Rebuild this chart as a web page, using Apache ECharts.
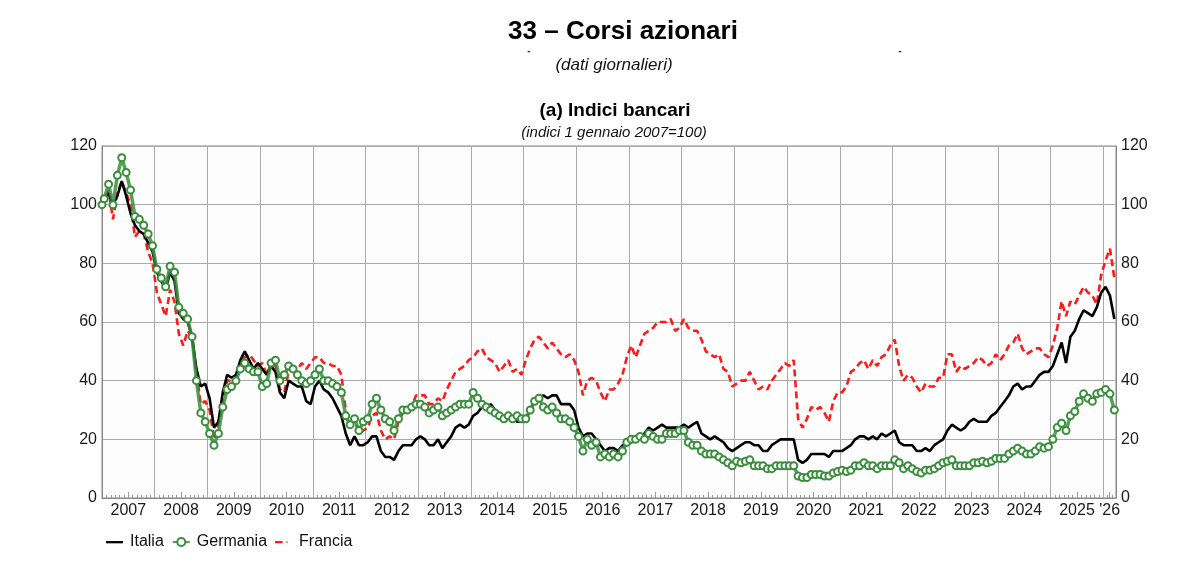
<!DOCTYPE html>
<html>
<head>
<meta charset="utf-8">
<script src="https://cdn.jsdelivr.net/npm/echarts@6/dist/echarts.min.js"></script>
<style>
html,body{margin:0;padding:0;background:#fff;}
#chart{width:1200px;height:582px;}
</style>
</head>
<body>
<div id="chart"></div>
<script>
// Monthly readings, Jan 2007 .. Mar 2026 (index 1 Jan 2007 = 100)
const startYear = 2007;
const endTime = 2026.24;
const baseValue = 100;
const yearLabels = ['2007','2008','2009','2010','2011','2012','2013','2014','2015','2016','2017','2018','2019','2020','2021','2022','2023','2024','2025',"'26"];
const yTicks = [0, 20, 40, 60, 80, 100, 120];

const italia = [
  102,104,100,103,108,103,97,93,91,90,87,84,
  77,74,71,77,74,63,61,60,55,44,38,39,
  34,24,26,36,42,41,42,47,50,47,44,46,
  44,42,45,43,36,34,40,39,38,38,33,32,
  38,40,37,36,34,31,28,22,18,21,18,18,
  19,21,21,16,14,14,13,16,18,18,18,20,
  21,20,18,18,20,17,19,21,24,25,24,25,
  28,29,31,30,32,30,28,27,27,27,26,26,
  27,30,33,34,35,34,35,35,32,32,32,30,
  24,21,22,22,20,18,16,17,17,16,18,18,
  19,20,21,22,24,23,24,25,24,24,24,24,
  25,24,25,26,22,21,20,21,20,19,17,16,
  17,18,19,19,18,18,16,16,18,19,20,20,
  20,20,13,12,13,15,15,15,15,14,16,16,
  16,17,18,20,21,21,20,21,20,22,21,22,
  23,19,18,18,18,16,16,17,16,18,19,20,
  23,25,24,23,24,26,27,26,26,26,28,29,
  31,33,35,38,39,37,38,38,40,42,43,43,
  45,49,53,46,55,57,61,64,63,62,65,70,
  72,69,61
];
const germania = [
  102,107,100,110,116,111,105,96,95,93,90,86,
  78,75,72,79,77,65,63,61,55,40,29,26,
  22,18,22,31,37,38,40,44,46,44,43,43,
  38,39,46,47,40,42,45,44,42,40,39,40,
  42,44,40,40,39,38,36,28,25,27,23,26,
  27,32,34,30,27,26,23,27,30,30,31,32,
  32,31,29,30,31,28,29,30,31,32,32,32,
  36,34,32,31,30,29,28,27,28,27,28,27,
  27,30,33,34,31,30,31,29,27,27,26,24,
  21,16,20,18,19,14,15,14,15,14,16,19,
  20,20,21,20,22,21,20,20,22,22,22,23,
  23,19,18,18,16,15,15,15,14,13,12,11,
  12.5,12,12.5,13,11,11,11,10,10,11,11,11,
  11,11,7.5,7,7,8,8,8,7.5,7.5,8.5,9,
  9.5,9,9.5,11,11,12,11,11,10,11,11,11,
  13,12,10,11,10,9,8.5,9.5,9.5,10,11,12,
  12.5,13,11,11,11,11,12,12,12.5,12,12.5,13.5,
  13.5,13.5,15,16,17,16,15,15,16,17.5,17,17.5,
  20,24,25.5,23,28,29.5,33,35.5,34,33,35.5,36,
  37,35.5,30
];
const francia = [
  101,105,95,104,108,104,100,89,91,90,84,80,
  70,66,62,71,67,56,52,57,55,43,32,33,
  30,20,25,33,40,40,41,45,48,49,47,45,
  46,42,46,45,37,36,43,44,44,46,44,46,
  48,48,46,46,45,45,42,30,24,27,22,23,
  24,28,29,23,20,21,20,26,29,30,31,35,
  35,35,32,32,34,33,37,40,43,44,45,47,
  48,50,51,48,47,46,43,45,47,43,44,42,
  47,51,54,55,53,51,53,51,49,48,49,47,
  43,35,40,41,40,36,33,37,37,39,42,48,
  52,48,52,56,57,58,60,60,60,61,57,58,
  61,58,57,57,54,50,49,48,49,44,43,38,
  39,40,40,43,40,37,38,37,40,42,44,46,
  45,47,27,24,27,31,30,31,29,26,33,36,
  36,38,43,44,46,47,44,47,45,48,49,52,
  54,45,40,42,41,38,36,39,38,38,41,41,
  49,49,43,45,44,45,46,48,47,45,46,49,
  47,49,52,53,56,51,49,50,51,51,49,48,
  52,58,67,62,67,66,69,72,70,69,66,76,
  81,85,75
];

function toPairs(vals) {
  const out = [[startYear, baseValue]];
  vals.forEach((v, i) => out.push([startYear + (i + 0.5) / 12, v]));
  return out;
}
const labelPos = yearLabels.map((l, i) => {
  const y0 = startYear + i;
  const y1 = Math.min(y0 + 1, endTime);
  return (y0 + y1) / 2;
});

const FONT = '"Liberation Sans", Arial, sans-serif';
const GREEN = '#3a8e3e';
const chart = echarts.init(document.getElementById('chart'), null, {renderer: 'canvas'});
chart.setOption({
  animation: false,
  backgroundColor: '#ffffff',
  textStyle: {fontFamily: FONT},
  title: [
    {text: '33 – Corsi azionari', left: 618, top: 14, textAlign: 'center',
     textStyle: {fontFamily: FONT, fontSize: 26, fontWeight: 'bold', color: '#000'}},
    {text: '-', left: 524, top: 41, textAlign: 'center',
     textStyle: {fontFamily: FONT, fontSize: 10, color: '#333'}},
    {text: '-', left: 895, top: 41, textAlign: 'center',
     textStyle: {fontFamily: FONT, fontSize: 10, color: '#333'}},
    {text: '(dati giornalieri)', left: 609, top: 52, textAlign: 'center',
     textStyle: {fontFamily: FONT, fontSize: 17, fontStyle: 'italic', fontWeight: 'normal', color: '#111'}},
    {text: '(a) Indici bancari', left: 610, top: 96, textAlign: 'center',
     textStyle: {fontFamily: FONT, fontSize: 19, fontWeight: 'bold', color: '#000'}},
    {text: '(indici 1 gennaio 2007=100)', left: 609, top: 120, textAlign: 'center',
     textStyle: {fontFamily: FONT, fontSize: 15, fontStyle: 'italic', fontWeight: 'normal', color: '#111'}}
  ],
  legend: {
    left: 101, top: 529, itemWidth: 17, itemHeight: 10, itemGap: 8,
    textStyle: {fontFamily: FONT, fontSize: 16, color: '#111', padding: [0, 0, 0, 2]},
    data: [
      {name: 'Italia', icon: 'path://M0,0 M0,10 M0,4 L18,4 L18,6.4 L0,6.4 Z'},
      {name: 'Germania'},
      {name: 'Francia', icon: 'path://M0,0 M0,10 M0,4 L8,4 L8,6.2 L0,6.2 Z M12,4.4 L13.5,4.4 L13.5,5.8 L12,5.8 Z M18,5 L18,5'}
    ]
  },
  grid: {left: 102, right: 84, top: 146, bottom: 84, show: true,
         borderColor: '#888', borderWidth: 1, backgroundColor: '#fdfdfd'},
  xAxis: [
    {type: 'value', min: startYear, max: endTime, interval: 1, position: 'bottom',
     axisLine: {show: true, lineStyle: {color: '#888'}},
     axisTick: {show: false, inside: true},
     minorTick: {show: true, splitNumber: 12, length: 3, lineStyle: {color: '#999'}},
     axisLabel: {show: false},
     splitLine: {show: true, lineStyle: {color: '#aaa', width: 1}}},
    {type: 'value', min: startYear, max: endTime, position: 'bottom',
     axisLine: {show: false},
     axisTick: {show: true, inside: true, length: 6, customValues: labelPos, lineStyle: {color: '#999'}},
     axisLabel: {show: true, customValues: labelPos, margin: 5, fontFamily: FONT, fontSize: 16, color: '#1a1a1a',
       formatter: function (v) {
         let best = 0, d = 1e9;
         labelPos.forEach((p, i) => { if (Math.abs(p - v) < d) { d = Math.abs(p - v); best = i; } });
         return yearLabels[best];
       }},
     splitLine: {show: false}}
  ],
  yAxis: [
    {type: 'value', min: yTicks[0], max: yTicks[yTicks.length - 1], interval: 20, position: 'left',
     axisLine: {show: true, lineStyle: {color: '#888'}},
     axisTick: {show: false},
     axisLabel: {fontFamily: FONT, fontSize: 16, color: '#1a1a1a', margin: 5},
     splitLine: {show: true, lineStyle: {color: '#aaa', width: 1}}},
    {type: 'value', min: yTicks[0], max: yTicks[yTicks.length - 1], interval: 20, position: 'right',
     axisLine: {show: true, lineStyle: {color: '#888'}},
     axisTick: {show: false},
     axisLabel: {fontFamily: FONT, fontSize: 16, color: '#1a1a1a', margin: 5},
     splitLine: {show: false}}
  ],
  series: [
    {name: 'Italia', type: 'line', xAxisIndex: 0, yAxisIndex: 0, data: toPairs(italia),
     symbol: 'none', color: '#000000', lineStyle: {color: '#000000', width: 2.6}, z: 3},
    {name: 'Germania', type: 'line', xAxisIndex: 0, yAxisIndex: 0, data: toPairs(germania),
     symbol: 'emptyCircle', symbolSize: 7, color: GREEN,
     itemStyle: {color: GREEN, borderWidth: 1.6, borderColor: GREEN},
     lineStyle: {color: GREEN, width: 3.5, opacity: 0.85}, z: 4},
    {name: 'Francia', type: 'line', xAxisIndex: 0, yAxisIndex: 0, data: toPairs(francia),
     symbol: 'none', color: '#ff1a1a', lineStyle: {color: '#ff1a1a', width: 2.6, type: [7, 4]}, z: 2}
  ]
});
</script>
</body>
</html>
